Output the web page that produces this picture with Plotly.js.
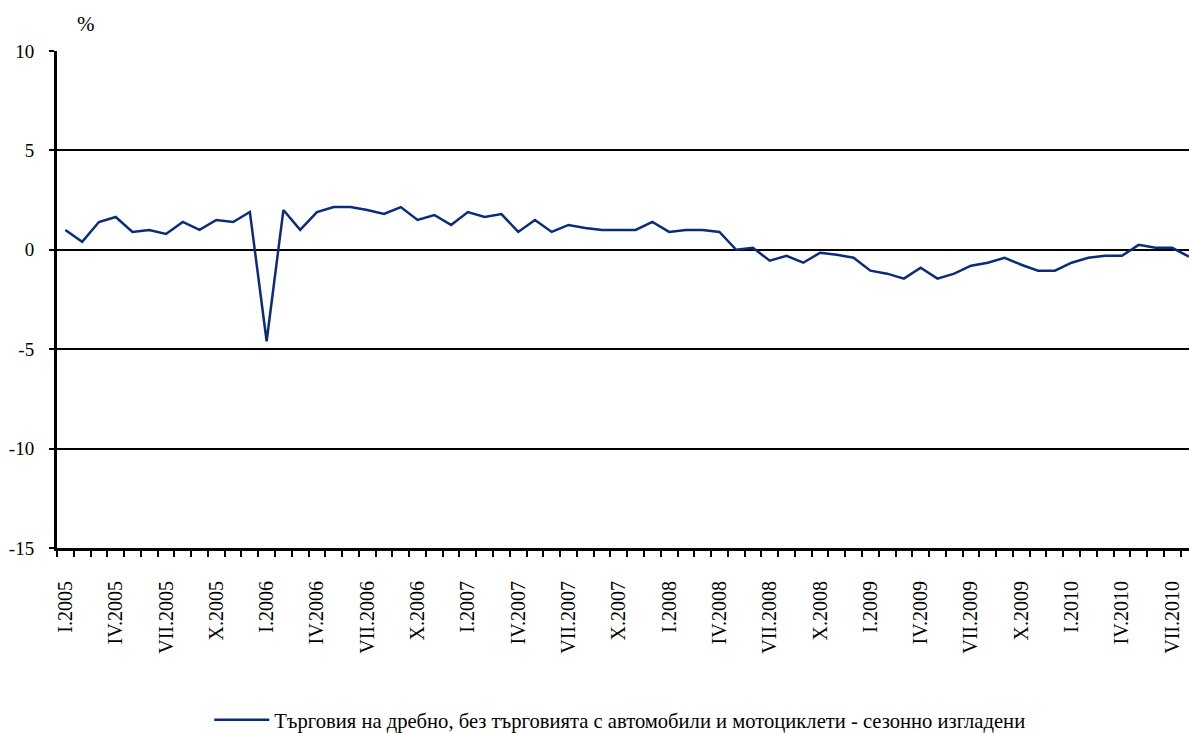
<!DOCTYPE html>
<html>
<head>
<meta charset="utf-8">
<script src="https://cdn.plot.ly/plotly-3.0.1.min.js"></script>
<style>html,body{margin:0;padding:0;background:#fff;}#chart{width:1189px;height:733px;}</style>
</head>
<body>
<div id="chart"></div>
<script>
const months = [
  "I.2005","II.2005","III.2005","IV.2005","V.2005","VI.2005","VII.2005","VIII.2005","IX.2005","X.2005","XI.2005","XII.2005",
  "I.2006","II.2006","III.2006","IV.2006","V.2006","VI.2006","VII.2006","VIII.2006","IX.2006","X.2006","XI.2006","XII.2006",
  "I.2007","II.2007","III.2007","IV.2007","V.2007","VI.2007","VII.2007","VIII.2007","IX.2007","X.2007","XI.2007","XII.2007",
  "I.2008","II.2008","III.2008","IV.2008","V.2008","VI.2008","VII.2008","VIII.2008","IX.2008","X.2008","XI.2008","XII.2008",
  "I.2009","II.2009","III.2009","IV.2009","V.2009","VI.2009","VII.2009","VIII.2009","IX.2009","X.2009","XI.2009","XII.2009",
  "I.2010","II.2010","III.2010","IV.2010","V.2010","VI.2010","VII.2010","VIII.2010"
];
const values = [
  1.0, 0.4, 1.4, 1.65, 0.9, 1.0, 0.8, 1.4, 1.0, 1.5, 1.4, 1.9,
  -4.6, 2.0, 1.0, 1.9, 2.15, 2.15, 2.0, 1.8, 2.15, 1.5, 1.75, 1.25,
  1.9, 1.65, 1.8, 0.9, 1.5, 0.9, 1.25, 1.1, 1.0, 1.0, 1.0, 1.4,
  0.9, 1.0, 1.0, 0.9, 0.0, 0.1, -0.55, -0.3, -0.65, -0.15, -0.25, -0.4,
  -1.05, -1.2, -1.45, -0.9, -1.45, -1.2, -0.8, -0.65, -0.4, -0.75, -1.05, -1.05,
  -0.65, -0.4, -0.3, -0.3, 0.25, 0.1, 0.1, -0.35
];
const tickLabels = ["I.2005","IV.2005","VII.2005","X.2005","I.2006","IV.2006","VII.2006","X.2006",
  "I.2007","IV.2007","VII.2007","X.2007","I.2008","IV.2008","VII.2008","X.2008",
  "I.2009","IV.2009","VII.2009","X.2009","I.2010","IV.2010","VII.2010"];
const seriesName = "Търговия на дребно, без търговията с автомобили и мотоциклети - сезонно изгладени";
const yTicks = [-15, -10, -5, 0, 5, 10];
const yTickText = ["-15", "-10", "-5", "0", "5", "10"];

const xIdx = months.map((m, i) => i);
const tickVals = tickLabels.map(l => months.indexOf(l));

const FONT = "Liberation Serif";

const trace = {
  x: xIdx, y: values, text: months,
  type: "scatter", mode: "lines",
  name: seriesName,
  line: {color: "#0b2c7d", width: 2.5},
  hovertemplate: "%{text}: %{y}<extra></extra>"
};

const layout = {
  width: 1189, height: 733,
  margin: {l: 57, r: 0, t: 51, b: 185, pad: 0, autoexpand: false},
  paper_bgcolor: "#fff", plot_bgcolor: "#fff",
  font: {family: FONT, color: "#000", size: 18},
  showlegend: true,
  legend: {
    orientation: "h", x: 0.1345, xanchor: "left", y: -0.346, yanchor: "middle",
    font: {family: FONT, size: 20.6, color: "#000"}, itemwidth: 55,
    bgcolor: "rgba(0,0,0,0)"
  },
  xaxis: {
    type: "linear", range: [-0.5, 67.0],
    tickmode: "array", tickvals: tickVals, ticktext: tickLabels,
    tickangle: -90, ticks: "", ticklabelstandoff: 22,
    tickfont: {family: FONT, size: 20, color: "#000"},
    showgrid: false, zeroline: false,
    showline: true, linecolor: "#000", linewidth: 3,
    minor: {tickmode: "linear", tick0: -0.5, dtick: 1, ticks: "outside", ticklen: 6, tickwidth: 2, tickcolor: "#000", showgrid: false}
  },
  yaxis: {
    range: [-15, 10], tickmode: "array", tickvals: yTicks, ticktext: yTickText,
    ticks: "outside", ticklen: 5, tickwidth: 2, tickcolor: "#000",
    ticklabelstandoff: 11,
    tickfont: {family: FONT, size: 19, color: "#000"},
    showgrid: true, gridcolor: "#000", gridwidth: 2,
    zeroline: true, zerolinecolor: "#000", zerolinewidth: 2,
    showline: true, linecolor: "#000", linewidth: 3
  },
  annotations: [{
    text: "%", xref: "paper", yref: "paper", x: 0.0256, y: 1.054,
    xanchor: "center", yanchor: "middle", showarrow: false,
    font: {family: FONT, size: 21, color: "#000"}
  }]
};

Plotly.newPlot("chart", [trace], layout, {displayModeBar: false, staticPlot: true});
</script>
</body>
</html>
